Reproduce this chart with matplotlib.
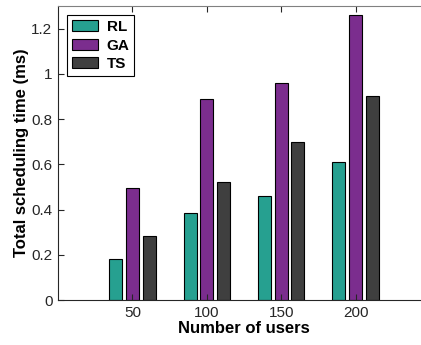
import numpy as np
import matplotlib
matplotlib.use('Agg')
import matplotlib.pyplot as plt
from matplotlib.ticker import FuncFormatter

plt.rcParams['font.family'] = ['Liberation Sans', 'DejaVu Sans']

###: Data
users = [50, 100, 150, 200]
rl = [0.18, 0.385, 0.46, 0.61]
ga = [0.495, 0.89, 0.96, 1.26]
ts = [0.285, 0.52, 0.70, 0.90]

colors = ['#26a090', '#7b2d8e', '#3f3f3f']
names = ['RL', 'GA', 'TS']

fig = plt.figure(figsize=(4.21, 3.45), dpi=100)
ax = fig.add_axes([58/421, 45/345, 372/421, 294/345])

x = np.array(users)
offset = 11.2
width = 8.8
for i, (vals, c, n) in enumerate(zip([rl, ga, ts], colors, names)):
    ax.bar(x + (i - 1) * offset, vals, width, color=c, edgecolor='black',
           linewidth=0.8, label=n)

ax.set_xlim(0, 250)
ax.set_ylim(0, 1.3)
ax.set_xticks(users)
ax.set_yticks([0, 0.2, 0.4, 0.6, 0.8, 1.0, 1.2])
ax.yaxis.set_major_formatter(FuncFormatter(lambda v, p: f'{v:g}'))

ax.tick_params(direction='in', length=4, width=0.8, labelsize=11,
               colors='#262626', top=True, right=False, pad=4)
for s in ax.spines.values():
    s.set_color('#262626')
    s.set_linewidth(0.8)
ax.spines['top'].set_color('#808080')
ax.spines['right'].set_visible(False)

ax.set_xlabel('Number of users', fontsize=12, fontweight='bold', labelpad=1)
ax.set_ylabel('Total scheduling time (ms)', fontsize=12, fontweight='bold', labelpad=2)

leg = ax.legend(loc='upper left', bbox_to_anchor=(0.024, 0.968), fancybox=False,
                edgecolor='black', framealpha=1, prop={'weight': 'bold', 'size': 11},
                handlelength=1.75, handleheight=0.75, borderpad=0.3,
                labelspacing=0.3, handletextpad=0.55, borderaxespad=0)
leg.get_frame().set_linewidth(0.8)

plt.savefig('out.png', dpi=100)
